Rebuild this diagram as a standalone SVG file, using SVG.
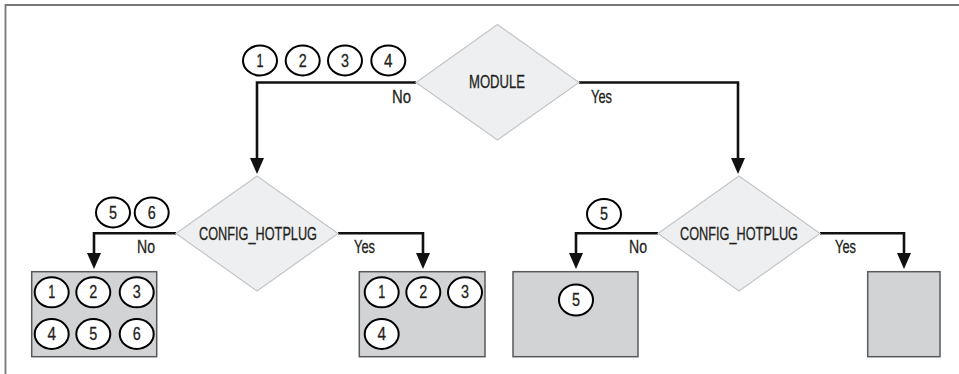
<svg xmlns="http://www.w3.org/2000/svg" width="959" height="374" viewBox="0 0 959 374">
<defs>
<style>
.frame{fill:none;stroke:#77787b;stroke-width:1.8}
.dia{fill:#eeeff0;stroke:#c4c5c7;stroke-width:1.2}
.box{fill:#d1d3d4;stroke:#58595b;stroke-width:1.5}
.num{fill:#ffffff;stroke:#000000;stroke-width:2}
.conn{fill:none;stroke:#111111;stroke-width:2.6}
text{font-family:"Liberation Sans",Arial,sans-serif;font-size:18px;fill:#231f20;stroke:#231f20;stroke-width:0.3}
</style>
<marker id="arr" viewBox="0 0 14 16" refX="7" refY="0" markerWidth="14" markerHeight="16" markerUnits="userSpaceOnUse" orient="0">
<path d="M0,0 L14,0 L7,16 Z" fill="#111111"/>
</marker>
</defs>
<rect width="959" height="374" fill="#ffffff"/>
<path class="frame" d="M5.5,374 V5 H959"/>

<g id="connectors">
<path class="conn" d="M416,82.5 H257 V158" marker-end="url(#arr)"/>
<path class="conn" d="M579,82.5 H738 V158" marker-end="url(#arr)"/>
<path class="conn" d="M176,233.3 H94 V253" marker-end="url(#arr)"/>
<path class="conn" d="M338,233.3 H423 V253" marker-end="url(#arr)"/>
<path class="conn" d="M658,233.3 H576 V253" marker-end="url(#arr)"/>
<path class="conn" d="M820,233.3 H904 V253" marker-end="url(#arr)"/>
<text x="392" y="102.5" textLength="19" lengthAdjust="spacingAndGlyphs">No</text>
<text x="591" y="102.5" textLength="21" lengthAdjust="spacingAndGlyphs">Yes</text>
<text x="137" y="253" textLength="18" lengthAdjust="spacingAndGlyphs">No</text>
<text x="354" y="253" textLength="21" lengthAdjust="spacingAndGlyphs">Yes</text>
<text x="629" y="253" textLength="18" lengthAdjust="spacingAndGlyphs">No</text>
<text x="835" y="253" textLength="21" lengthAdjust="spacingAndGlyphs">Yes</text>
</g>

<g id="labels-top">
<ellipse class="num" cx="260" cy="60.5" rx="17" ry="15"/><text text-anchor="middle" x="260" y="66.5" textLength="7" lengthAdjust="spacingAndGlyphs">1</text>
<ellipse class="num" cx="302.7" cy="60.5" rx="17" ry="15"/><text text-anchor="middle" x="302.7" y="66.5" textLength="8" lengthAdjust="spacingAndGlyphs">2</text>
<ellipse class="num" cx="345" cy="60.5" rx="17" ry="15"/><text text-anchor="middle" x="345" y="66.5" textLength="8" lengthAdjust="spacingAndGlyphs">3</text>
<ellipse class="num" cx="388.3" cy="60.5" rx="17" ry="15"/><text text-anchor="middle" x="388.3" y="66.5" textLength="8.5" lengthAdjust="spacingAndGlyphs">4</text>
</g>
<g id="labels-left">
<ellipse class="num" cx="113" cy="212.5" rx="17" ry="15"/><text text-anchor="middle" x="113" y="218.5" textLength="8" lengthAdjust="spacingAndGlyphs">5</text>
<ellipse class="num" cx="151.7" cy="212.5" rx="17" ry="15"/><text text-anchor="middle" x="151.7" y="218.5" textLength="8" lengthAdjust="spacingAndGlyphs">6</text>
</g>
<g id="labels-right">
<ellipse class="num" cx="604" cy="214" rx="17" ry="15"/><text text-anchor="middle" x="604" y="220" textLength="8" lengthAdjust="spacingAndGlyphs">5</text>
</g>

<g id="module">
<polygon class="dia" points="497.5,24.5 579,82.5 497.5,140 416,82.5"/>
<text text-anchor="middle" transform="translate(497,87.5) scale(0.727,1)" x="0" y="0">MODULE</text>
</g>
<g id="hotplug-left">
<polygon class="dia" points="257,176 338,233.5 257,291 176,233.5"/>
<text text-anchor="middle" transform="translate(258,239.5) scale(0.707,1)" x="0" y="0">CONFIG_HOTPLUG</text>
</g>
<g id="hotplug-right">
<polygon class="dia" points="739,176 820,233.5 739,291 658,233.5"/>
<text text-anchor="middle" transform="translate(739,239.5) scale(0.707,1)" x="0" y="0">CONFIG_HOTPLUG</text>
</g>

<g id="box1">
<rect class="box" x="31.7" y="271.7" width="125" height="85"/>
<ellipse class="num" cx="51.7" cy="292.3" rx="17" ry="15"/><text text-anchor="middle" x="51.7" y="298.3" textLength="7" lengthAdjust="spacingAndGlyphs">1</text>
<ellipse class="num" cx="93.3" cy="292.3" rx="17" ry="15"/><text text-anchor="middle" x="93.3" y="298.3" textLength="8" lengthAdjust="spacingAndGlyphs">2</text>
<ellipse class="num" cx="136.7" cy="292.3" rx="17" ry="15"/><text text-anchor="middle" x="136.7" y="298.3" textLength="8" lengthAdjust="spacingAndGlyphs">3</text>
<ellipse class="num" cx="51.7" cy="334" rx="17" ry="15"/><text text-anchor="middle" x="51.7" y="340" textLength="8.5" lengthAdjust="spacingAndGlyphs">4</text>
<ellipse class="num" cx="93.3" cy="334" rx="17" ry="15"/><text text-anchor="middle" x="93.3" y="340" textLength="8" lengthAdjust="spacingAndGlyphs">5</text>
<ellipse class="num" cx="136.7" cy="334" rx="17" ry="15"/><text text-anchor="middle" x="136.7" y="340" textLength="8" lengthAdjust="spacingAndGlyphs">6</text>
</g>
<g id="box2">
<rect class="box" x="359.3" y="271.7" width="125.7" height="85"/>
<ellipse class="num" cx="381.7" cy="292.3" rx="17" ry="15"/><text text-anchor="middle" x="381.7" y="298.3" textLength="7" lengthAdjust="spacingAndGlyphs">1</text>
<ellipse class="num" cx="423.3" cy="292.3" rx="17" ry="15"/><text text-anchor="middle" x="423.3" y="298.3" textLength="8" lengthAdjust="spacingAndGlyphs">2</text>
<ellipse class="num" cx="465" cy="292.3" rx="17" ry="15"/><text text-anchor="middle" x="465" y="298.3" textLength="8" lengthAdjust="spacingAndGlyphs">3</text>
<ellipse class="num" cx="381.7" cy="334" rx="17" ry="15"/><text text-anchor="middle" x="381.7" y="340" textLength="8.5" lengthAdjust="spacingAndGlyphs">4</text>
</g>
<g id="box3">
<rect class="box" x="513" y="271.7" width="125" height="85"/>
<ellipse class="num" cx="576" cy="300" rx="17" ry="15.5"/><text text-anchor="middle" x="576" y="306" textLength="8" lengthAdjust="spacingAndGlyphs">5</text>
</g>
<g id="box4">
<rect class="box" x="867.7" y="271.7" width="72.3" height="85"/>
</g>
</svg>
